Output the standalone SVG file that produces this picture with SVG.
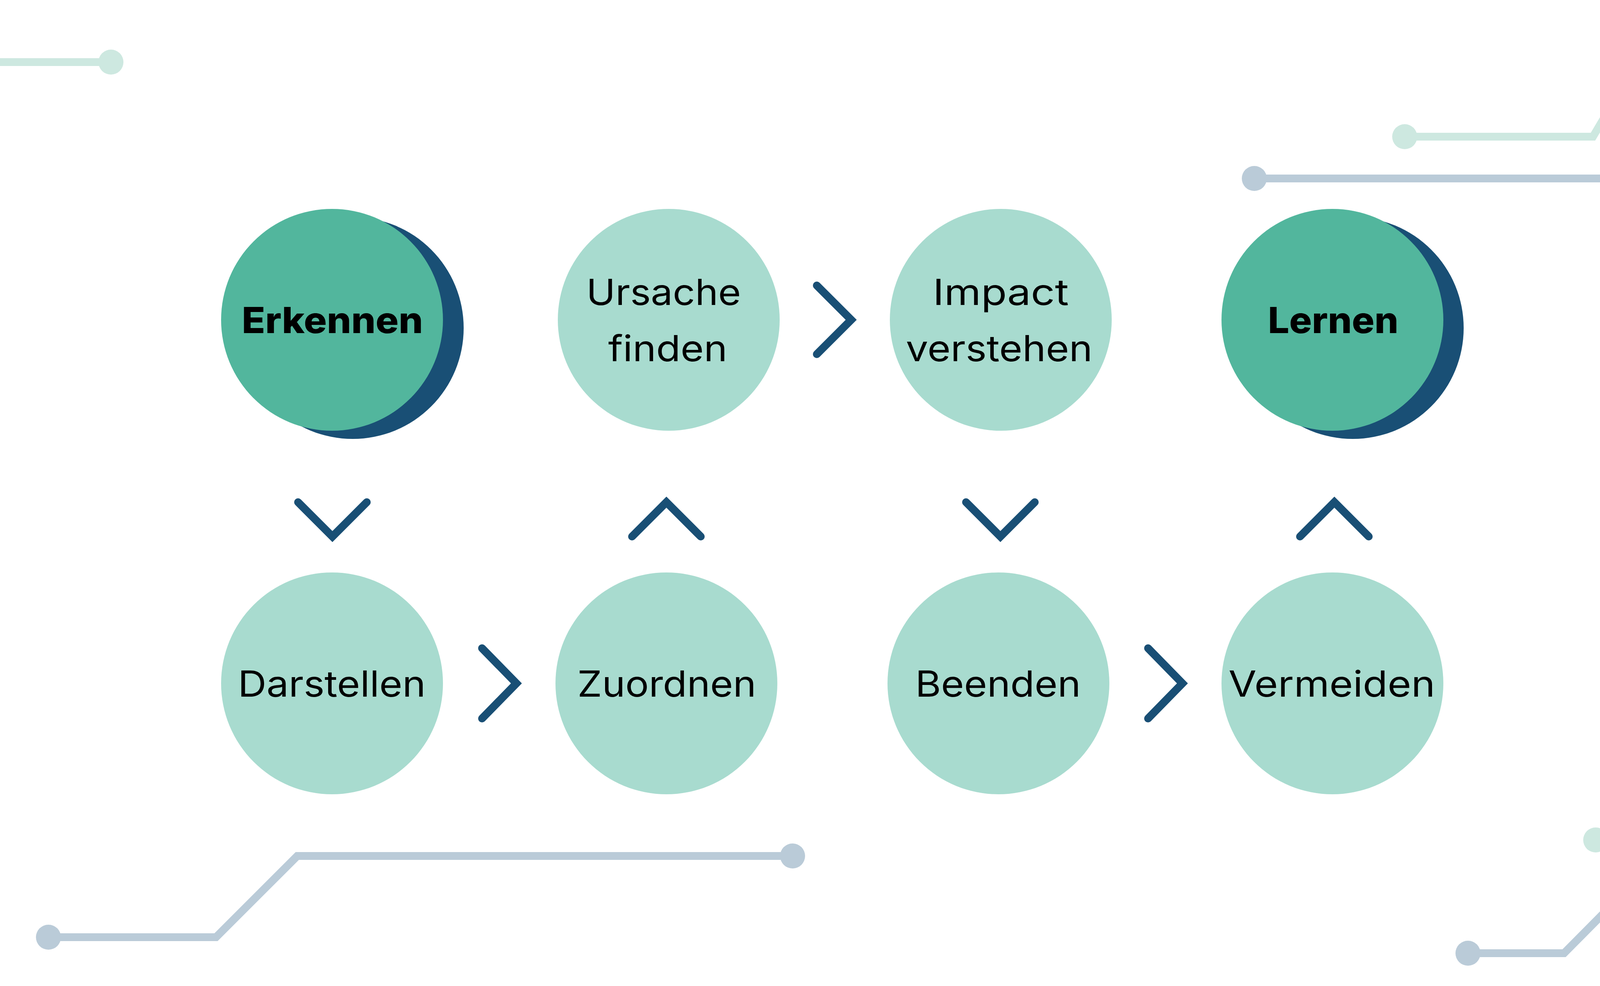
<svg xmlns="http://www.w3.org/2000/svg" width="4357" height="2525" viewBox="0 0 4357 2525">
<style>
.bg{fill:#FFFFFF}
.deco-g{fill:none;stroke:#CDE8E0;stroke-width:20;stroke-linejoin:miter}
.deco-b{fill:none;stroke:#BACBD8;stroke-width:20;stroke-linejoin:miter}
.dot-g{fill:#CDE8E0}
.dot-b{fill:#BACBD8}
.main{fill:#52B69D}
.shadow{fill:#194F75}
.step{fill:#A8DBCF}
.chev{fill:none;stroke:#194F75;stroke-width:20;stroke-linecap:round;stroke-linejoin:miter}
.lbl{font-family:Inter,"Open Sans","Liberation Sans",sans-serif;font-size:92px;fill:#000000}
.bold{font-weight:800}
</style>
<rect class="bg" x="0" y="0" width="4357" height="2525"/>
<g id="decoration">
  <path class="deco-g" d="M0 159 H284"/>
  <circle class="dot-g" cx="284" cy="159" r="32"/>
  <path class="deco-g" d="M3596 350 H4078 L4249 61 H4357"/>
  <circle class="dot-g" cx="3596" cy="350" r="32"/>
  <path class="deco-b" d="M3211 457 H4357"/>
  <circle class="dot-b" cx="3211" cy="457" r="32"/>
  <path class="deco-b" d="M124 2400 H553 L761 2192 H2029"/>
  <circle class="dot-b" cx="124" cy="2400" r="32"/>
  <circle class="dot-b" cx="2029" cy="2192" r="32"/>
  <path class="deco-g" d="M4085 2151 H4357"/>
  <circle class="dot-g" cx="4085" cy="2151" r="32"/>
  <path class="deco-b" d="M3758 2441 H4004 L4217 2226 H4357"/>
  <circle class="dot-b" cx="3758" cy="2441" r="32"/>
</g>
<g id="connectors">
  <polyline class="chev" points="763,1286 851,1374 939,1286"/>
  <polyline class="chev" points="1234,1660 1322,1750 1234,1840"/>
  <polyline class="chev" points="1618,1374 1706,1286 1794,1374"/>
  <polyline class="chev" points="2091,731 2179,819 2091,907"/>
  <polyline class="chev" points="2473,1286 2561,1374 2649,1286"/>
  <polyline class="chev" points="2939,1660 3027,1750 2939,1840"/>
  <polyline class="chev" points="3328,1374 3416,1286 3504,1374"/>
</g>
<g id="node-erkennen">
  <circle class="shadow" cx="903" cy="840" r="284"/>
  <circle class="main" cx="850" cy="819" r="284"/>
  <text class="lbl bold" x="619" y="853" textLength="464" lengthAdjust="spacingAndGlyphs">Erkennen</text>
</g>
<g id="node-darstellen">
  <circle class="step" cx="850" cy="1750" r="284"/>
  <text class="lbl" x="609" y="1784" textLength="481" lengthAdjust="spacingAndGlyphs">Darstellen</text>
</g>
<g id="node-zuordnen">
  <circle class="step" cx="1706" cy="1750" r="284"/>
  <text class="lbl" x="1478" y="1784" textLength="458" lengthAdjust="spacingAndGlyphs">Zuordnen</text>
</g>
<g id="node-ursache">
  <circle class="step" cx="1712" cy="819" r="284"/>
  <text class="lbl" x="1501" y="781" textLength="396" lengthAdjust="spacingAndGlyphs">Ursache</text>
  <text class="lbl" x="1557" y="925" textLength="305" lengthAdjust="spacingAndGlyphs">finden</text>
</g>
<g id="node-impact">
  <circle class="step" cx="2562" cy="819" r="284"/>
  <text class="lbl" x="2388" y="781" textLength="348" lengthAdjust="spacingAndGlyphs">Impact</text>
  <text class="lbl" x="2319" y="925" textLength="478" lengthAdjust="spacingAndGlyphs">verstehen</text>
</g>
<g id="node-beenden">
  <circle class="step" cx="2556" cy="1750" r="284"/>
  <text class="lbl" x="2343" y="1784" textLength="424" lengthAdjust="spacingAndGlyphs">Beenden</text>
</g>
<g id="node-vermeiden">
  <circle class="step" cx="3411" cy="1750" r="284"/>
  <text class="lbl" x="3145" y="1784" textLength="529" lengthAdjust="spacingAndGlyphs">Vermeiden</text>
</g>
<g id="node-lernen">
  <circle class="shadow" cx="3463" cy="840" r="284"/>
  <circle class="main" cx="3411" cy="819" r="284"/>
  <text class="lbl bold" x="3246" y="853" textLength="334" lengthAdjust="spacingAndGlyphs">Lernen</text>
</g>
</svg>
